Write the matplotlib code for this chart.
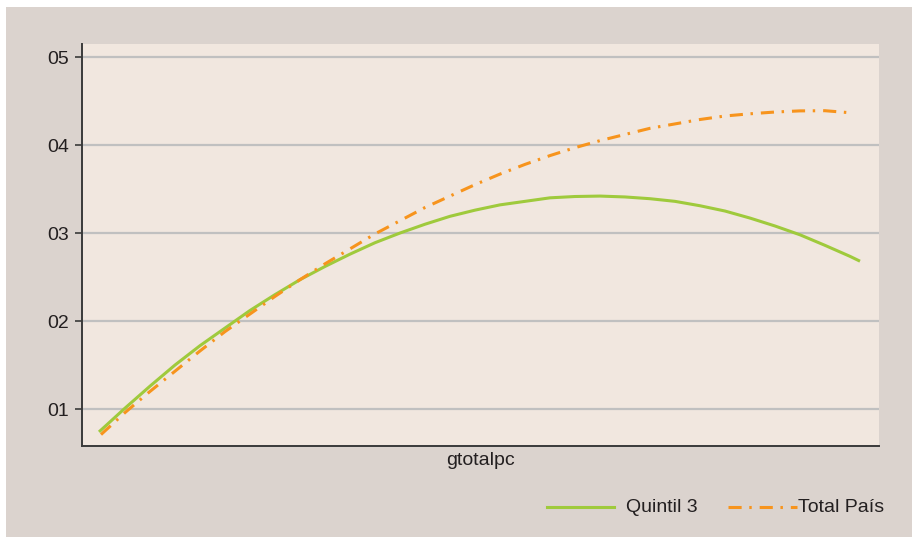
import numpy as np
import matplotlib
matplotlib.use("Agg")
import matplotlib.pyplot as plt
from matplotlib.patches import Rectangle
from matplotlib.lines import Line2D

# values (no x ticks shown, x is in arbitrary units)
gtotalpc_q3 = [99, 125, 150, 175, 200, 225, 250, 275, 300, 325, 350, 375, 400, 425,
               450, 475, 500, 525, 550, 575, 600, 625, 650, 675, 700, 725, 750, 775,
               800, 825, 850, 860]
quintil_3 = [0.74, 1.01, 1.26, 1.50, 1.72, 1.92, 2.12, 2.30, 2.47, 2.62, 2.76, 2.89,
             3.00, 3.10, 3.19, 3.26, 3.32, 3.36, 3.40, 3.415, 3.42, 3.41, 3.39, 3.36,
             3.31, 3.25, 3.17, 3.08, 2.98, 2.86, 2.735, 2.68]

gtotalpc_tot = [101, 125, 150, 175, 200, 225, 250, 275, 300, 325, 350, 375, 400, 425,
                450, 475, 500, 525, 550, 575, 600, 625, 650, 675, 700, 725, 750, 775,
                800, 825, 852]
total_pais = [0.71, 0.96, 1.20, 1.43, 1.66, 1.88, 2.08, 2.28, 2.47, 2.65, 2.82, 2.99,
              3.14, 3.29, 3.42, 3.55, 3.67, 3.78, 3.88, 3.97, 4.05, 4.12, 4.19, 4.24,
              4.29, 4.33, 4.355, 4.375, 4.388, 4.39, 4.365]

ytick_vals = [1, 2, 3, 4, 5]
ytick_labels = ["01", "02", "03", "04", "05"]

BG_OUT = "#dbd3ce"
BG_IN = "#f1e7df"
GREEN = "#9fca3c"
ORANGE = "#f7941d"
TXT = "#231f20"
DASH = (0, (4.3, 2.5, 0.8, 2.6))

plt.rcParams["font.family"] = ["Liberation Sans", "DejaVu Sans"]

W, H = 918, 541
fig = plt.figure(figsize=(W / 100, H / 100), dpi=100, facecolor="white")
fig.patches.append(Rectangle((6 / W, 1 - 537 / H), (912 - 6) / W, (537 - 7) / H,
                             transform=fig.transFigure, facecolor=BG_OUT,
                             edgecolor="none", zorder=-10))

ax = fig.add_axes([82 / W, 1 - 446 / H, (879 - 82) / W, (446 - 44) / H])
ax.set_facecolor(BG_IN)

ax.plot(gtotalpc_q3, quintil_3, color=GREEN, lw=2.2, solid_capstyle="butt")
ax.plot(gtotalpc_tot, total_pais, color=ORANGE, lw=2.2, linestyle=DASH)

ax.set_xlim(82, 879)
ax.set_ylim(0.58, 5.148)
ax.set_yticks(ytick_vals)
ax.set_yticklabels(ytick_labels)
ax.set_xticks([])
ax.grid(axis="y", color="#c0c0c0", lw=1.6)
ax.set_axisbelow(True)

for s in ["top", "right"]:
    ax.spines[s].set_visible(False)
for s in ["left", "bottom"]:
    ax.spines[s].set_color("#3a3a3a")
    ax.spines[s].set_linewidth(1.4)
ax.tick_params(axis="y", length=5, width=1.2, color="#3a3a3a", pad=4,
               labelsize=14, labelcolor=TXT)

ax.set_xlabel("gtotalpc", fontsize=14, color=TXT, labelpad=4)

# legend drawn by hand to match the spacing of the original
ly = 1 - 507 / H
fig.add_artist(Line2D([547 / W, 614 / W], [ly, ly], color=GREEN, lw=2.2,
                      transform=fig.transFigure))
fig.text(626 / W, ly, "Quintil 3", fontsize=14, color=TXT, va="center", ha="left")
fig.add_artist(Line2D([728 / W, 797 / W], [ly, ly], color=ORANGE, lw=2.2,
                      linestyle=DASH, transform=fig.transFigure))
fig.text(798 / W, ly, "Total País", fontsize=14, color=TXT, va="center", ha="left")

fig.savefig("out.png", dpi=100, facecolor="white")
